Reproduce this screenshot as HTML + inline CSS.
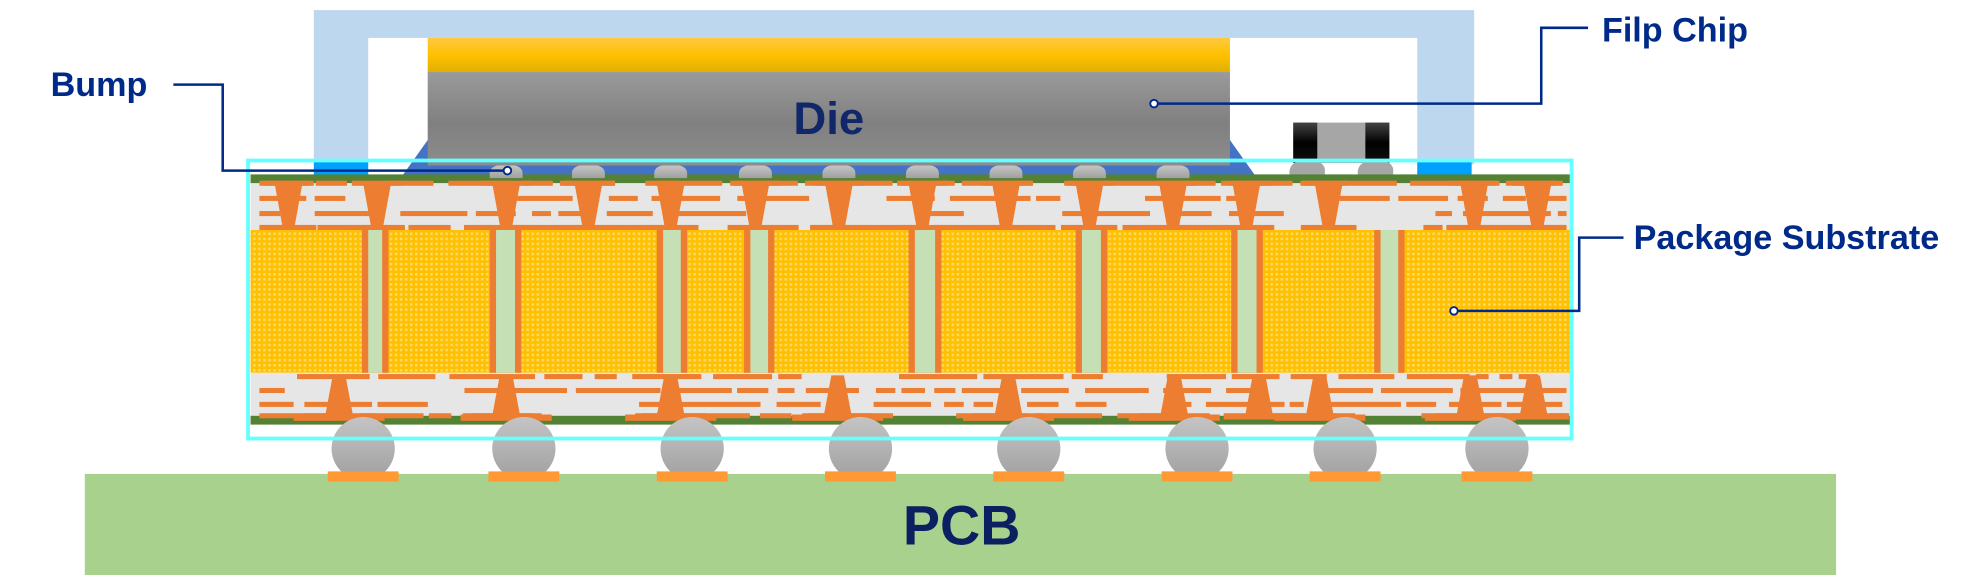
<!DOCTYPE html>
<html><head><meta charset="utf-8"><style>
html,body{margin:0;padding:0;background:#fff;width:1974px;height:575px;overflow:hidden}
svg{display:block}
text{font-family:"Liberation Sans","DejaVu Sans",sans-serif;fill:#002a8a}
</style></head><body>
<svg id="s" width="1974" height="575" viewBox="0 0 1560 455" preserveAspectRatio="none" xmlns="http://www.w3.org/2000/svg">
<defs>
<pattern id="core" width="4" height="4" patternUnits="userSpaceOnUse">
<rect width="4" height="4" fill="#ffc000"/><rect x="0" y="0" width="2" height="2" fill="#ffd966"/>
</pattern>
<linearGradient id="gold" x1="0" y1="0" x2="0" y2="1"><stop offset="0" stop-color="#ffc940"/><stop offset=".5" stop-color="#ffc000"/><stop offset="1" stop-color="#e0b000"/></linearGradient>
<linearGradient id="die" x1="0" y1="0" x2="0" y2="1"><stop offset="0" stop-color="#9a9a9a"/><stop offset=".55" stop-color="#808080"/><stop offset="1" stop-color="#8c8c8c"/></linearGradient>
<linearGradient id="ball" x1="0" y1="0" x2="0" y2="1"><stop offset="0" stop-color="#c4c4c4"/><stop offset="1" stop-color="#a0a0a0"/></linearGradient>
<linearGradient id="capend" x1="0" y1="0" x2="0" y2="1"><stop offset="0" stop-color="#444"/><stop offset=".5" stop-color="#000"/><stop offset="1" stop-color="#111"/></linearGradient>
</defs>
<rect x="67" y="375" width="1384" height="81" fill="#a9d18e"/>
<text x="760" y="431" font-size="44" text-anchor="middle" font-weight="bold" style="fill:#0a2060">PCB</text>
<rect x="248" y="8" width="917" height="122" fill="#bdd7ee"/>
<rect x="291" y="30" width="829" height="100" fill="#fff"/>
<rect x="248" y="127" width="43" height="12" fill="#00a0ff"/>
<rect x="1120" y="127" width="43" height="12" fill="#00a0ff"/>
<polygon points="318,139 340,108 970,108 992,139" fill="#4472c4"/>
<rect x="338" y="30" width="634" height="27" fill="url(#gold)"/>
<rect x="338" y="57" width="634" height="74" fill="url(#die)"/>
<text x="655" y="106" font-size="36" text-anchor="middle" font-weight="bold" style="fill:#10286a">Die</text>
<rect x="1022" y="97" width="76" height="32" fill="#a6a6a6"/>
<rect x="1022" y="97" width="19" height="32" fill="url(#capend)"/>
<rect x="1079" y="97" width="19" height="32" fill="url(#capend)"/>
<path d="M1019,141 v-5 a8,8 0 0 1 8,-8 h14 a7,7 0 0 1 6,8 v5z" fill="#a6a6a6"/>
<path d="M1073,141 v-5 a8,8 0 0 1 8,-8 h14 a7,7 0 0 1 6,8 v5z" fill="#a6a6a6"/>
<rect x="198" y="138" width="1043" height="7" fill="#548235"/>
<rect x="198" y="145" width="1043" height="37" fill="#e6e6e6"/>
<rect x="198" y="182" width="1043" height="113" fill="url(#core)"/>
<rect x="198" y="295" width="1043" height="34" fill="#e6e6e6"/>
<rect x="198" y="329" width="1043" height="7" fill="#548235"/>
<g id="deco"></g>
<g id="balls"></g>
<rect x="196" y="127" width="1046" height="220" fill="none" stroke="#66ffff" stroke-width="3"/>
<g fill="none" stroke="#002a8a" stroke-width="2">
<polyline points="137,67 176,67 176,135 400,135"/>
<polyline points="1255,22 1218,22 1218,82 912,82"/>
<polyline points="1283,188 1248,188 1248,246 1150,246"/>
</g>
<g fill="#fff" stroke="#002a8a" stroke-width="1.5">
<circle cx="401" cy="135" r="3"/><circle cx="912" cy="82" r="3"/><circle cx="1149" cy="246" r="3"/>
</g>
<text x="40" y="76" font-size="27" font-weight="bold">Bump</text>
<text x="1266" y="33" font-size="27" font-weight="bold">Filp Chip</text>
<text x="1291" y="197" font-size="27" font-weight="bold">Package Substrate</text>
</svg>
<script>
var NS="http://www.w3.org/2000/svg";
function el(p,t,a){var e=document.createElementNS(NS,t);for(var k in a)e.setAttribute(k,a[k]);p.appendChild(e);return e;}
var d=document.getElementById("deco"),O="#ed7d31";
function r(x,y,w,h,c){el(d,"rect",{x:x,y:y,width:w,height:h,fill:c||O});}
function tz(cx,y1,y2,wt,wb){el(d,"polygon",{points:(cx-wt/2)+","+y1+" "+(cx+wt/2)+","+y1+" "+(cx+wb/2)+","+y2+" "+(cx-wb/2)+","+y2,fill:O});}
[[286,307],[387,412],[519,543],[588,612],[718,744],[850,875],[973,998],[1086,1110]].forEach(function(v){
 r(v[0],182,v[1]-v[0],113);r(v[0]+5,182,v[1]-v[0]-10,113,"#c5e0b4");
});
var s=7;function rnd(){s=(s*9301+49297)%233280;return s/233280;}
function line(y,h){var x=205;while(x<1238){var w=10+rnd()*60;if(x+w>1238)w=1238-x;if(rnd()<0.75)r(x,y,w,h);x+=w+4+rnd()*10;}}
line(143,4);line(155,4);line(167,4);line(178,4);
line(296,4);line(307,4);line(318,4);line(327,4);
[228,298,400,465,530,597,663,729,795,861,927,985,1050,1165,1215].forEach(function(x){tz(x,145,178,22,10);r(x-20,143,40,4);r(x-22,178,44,4);});
[268,400,530,662,797,928,995,1043,1162,1212].forEach(function(x){tz(x,297,329,10,22);r(x-28,327,56,5);});
var b=document.getElementById("balls");
[400,465,530,597,663,729,795,861,927].forEach(function(x){el(b,"path",{d:"M"+(x-13)+",141 v-4 a7,6 0 0 1 7,-6 h12 a7,6 0 0 1 7,6 v4z",fill:"url(#ball)"});});
[287,414,547,680,813,946,1063,1183].forEach(function(x){
 el(b,"ellipse",{cx:x,cy:355,rx:25,ry:25,fill:"url(#ball)"});
 el(b,"rect",{x:x-28,y:373,width:56,height:8,fill:"#ff9933"});
});
[268,400,530,662,797,928,1043,1162].forEach(function(x){r(x-36,328,72,5);});
</script>
</body></html>
